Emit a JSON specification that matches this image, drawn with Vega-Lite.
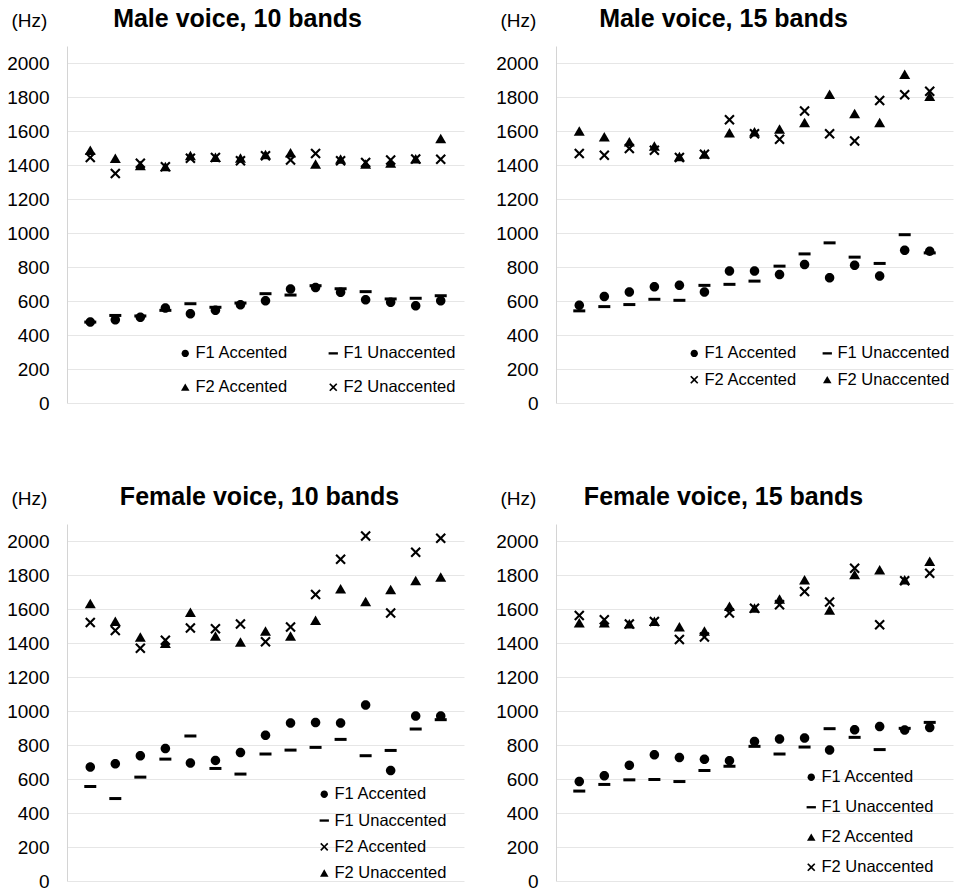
{
  "$schema": "https://vega.github.io/schema/vega-lite/v6.json",
  "background": "white",
  "padding": {"left": 6, "top": 7, "right": 4, "bottom": 4},
  "config": {
    "font": "Liberation Sans",
    "view": {"stroke": null},
    "title": {"fontSize": 25, "fontWeight": "bold", "color": "black", "anchor": "middle", "frame": "group", "offset": -21},
    "axisY": {
      "domainColor": "#d4d4d4", "gridColor": "#e6e6e6", "ticks": false, "tickSize": 0, "labelPadding": 18, "format": "d",
      "labelFontSize": 19, "labelColor": "black", "titleFontSize": 19, "titleFontWeight": "normal",
      "titleColor": "black", "titleAngle": 0, "titleX": -56, "titleY": -26, "titleAlign": "left", "titleBaseline": "middle"
    },
    "legend": {
      "orient": "none", "padding": 0, "labelFontSize": 16.5, "labelColor": "black", "labelFont": "Liberation Sans",
      "symbolSize": 60, "symbolFillColor": "black", "symbolStrokeWidth": 0, "labelOffset": 2
    }
  },
  "data": {"values": [
    {"p":"M10","i":1,"s":"F1 Accented","v":476},{"p":"M10","i":2,"s":"F1 Accented","v":490},{"p":"M10","i":3,"s":"F1 Accented","v":504},{"p":"M10","i":4,"s":"F1 Accented","v":559},{"p":"M10","i":5,"s":"F1 Accented","v":525},{"p":"M10","i":6,"s":"F1 Accented","v":545},{"p":"M10","i":7,"s":"F1 Accented","v":578},{"p":"M10","i":8,"s":"F1 Accented","v":602},{"p":"M10","i":9,"s":"F1 Accented","v":670},{"p":"M10","i":10,"s":"F1 Accented","v":680},{"p":"M10","i":11,"s":"F1 Accented","v":651},{"p":"M10","i":12,"s":"F1 Accented","v":608},{"p":"M10","i":13,"s":"F1 Accented","v":592},{"p":"M10","i":14,"s":"F1 Accented","v":572},{"p":"M10","i":15,"s":"F1 Accented","v":602},
    {"p":"M10","i":1,"s":"F1 Unaccented","v":476},{"p":"M10","i":2,"s":"F1 Unaccented","v":515},{"p":"M10","i":3,"s":"F1 Unaccented","v":512},{"p":"M10","i":4,"s":"F1 Unaccented","v":545},{"p":"M10","i":5,"s":"F1 Unaccented","v":584},{"p":"M10","i":6,"s":"F1 Unaccented","v":563},{"p":"M10","i":7,"s":"F1 Unaccented","v":588},{"p":"M10","i":8,"s":"F1 Unaccented","v":643},{"p":"M10","i":9,"s":"F1 Unaccented","v":635},{"p":"M10","i":10,"s":"F1 Unaccented","v":690},{"p":"M10","i":11,"s":"F1 Unaccented","v":672},{"p":"M10","i":12,"s":"F1 Unaccented","v":655},{"p":"M10","i":13,"s":"F1 Unaccented","v":612},{"p":"M10","i":14,"s":"F1 Unaccented","v":616},{"p":"M10","i":15,"s":"F1 Unaccented","v":631},
    {"p":"M10","i":1,"s":"F2 Accented","v":1485},{"p":"M10","i":2,"s":"F2 Accented","v":1438},{"p":"M10","i":3,"s":"F2 Accented","v":1395},{"p":"M10","i":4,"s":"F2 Accented","v":1390},{"p":"M10","i":5,"s":"F2 Accented","v":1455},{"p":"M10","i":6,"s":"F2 Accented","v":1444},{"p":"M10","i":7,"s":"F2 Accented","v":1440},{"p":"M10","i":8,"s":"F2 Accented","v":1460},{"p":"M10","i":9,"s":"F2 Accented","v":1470},{"p":"M10","i":10,"s":"F2 Accented","v":1405},{"p":"M10","i":11,"s":"F2 Accented","v":1434},{"p":"M10","i":12,"s":"F2 Accented","v":1405},{"p":"M10","i":13,"s":"F2 Accented","v":1410},{"p":"M10","i":14,"s":"F2 Accented","v":1435},{"p":"M10","i":15,"s":"F2 Accented","v":1555},
    {"p":"M10","i":1,"s":"F2 Unaccented","v":1444},{"p":"M10","i":2,"s":"F2 Unaccented","v":1350},{"p":"M10","i":3,"s":"F2 Unaccented","v":1410},{"p":"M10","i":4,"s":"F2 Unaccented","v":1390},{"p":"M10","i":5,"s":"F2 Unaccented","v":1440},{"p":"M10","i":6,"s":"F2 Unaccented","v":1444},{"p":"M10","i":7,"s":"F2 Unaccented","v":1425},{"p":"M10","i":8,"s":"F2 Unaccented","v":1455},{"p":"M10","i":9,"s":"F2 Unaccented","v":1430},{"p":"M10","i":10,"s":"F2 Unaccented","v":1467},{"p":"M10","i":11,"s":"F2 Unaccented","v":1425},{"p":"M10","i":12,"s":"F2 Unaccented","v":1415},{"p":"M10","i":13,"s":"F2 Unaccented","v":1430},{"p":"M10","i":14,"s":"F2 Unaccented","v":1435},{"p":"M10","i":15,"s":"F2 Unaccented","v":1434},

    {"p":"M15","i":1,"s":"F1 Accented","v":575},{"p":"M15","i":2,"s":"F1 Accented","v":626},{"p":"M15","i":3,"s":"F1 Accented","v":653},{"p":"M15","i":4,"s":"F1 Accented","v":684},{"p":"M15","i":5,"s":"F1 Accented","v":692},{"p":"M15","i":6,"s":"F1 Accented","v":653},{"p":"M15","i":7,"s":"F1 Accented","v":776},{"p":"M15","i":8,"s":"F1 Accented","v":776},{"p":"M15","i":9,"s":"F1 Accented","v":756},{"p":"M15","i":10,"s":"F1 Accented","v":815},{"p":"M15","i":11,"s":"F1 Accented","v":737},{"p":"M15","i":12,"s":"F1 Accented","v":811},{"p":"M15","i":13,"s":"F1 Accented","v":747},{"p":"M15","i":14,"s":"F1 Accented","v":899},{"p":"M15","i":15,"s":"F1 Accented","v":893},
    {"p":"M15","i":1,"s":"F1 Unaccented","v":542},{"p":"M15","i":2,"s":"F1 Unaccented","v":567},{"p":"M15","i":3,"s":"F1 Unaccented","v":579},{"p":"M15","i":4,"s":"F1 Unaccented","v":610},{"p":"M15","i":5,"s":"F1 Unaccented","v":604},{"p":"M15","i":6,"s":"F1 Unaccented","v":692},{"p":"M15","i":7,"s":"F1 Unaccented","v":698},{"p":"M15","i":8,"s":"F1 Unaccented","v":717},{"p":"M15","i":9,"s":"F1 Unaccented","v":805},{"p":"M15","i":10,"s":"F1 Unaccented","v":877},{"p":"M15","i":11,"s":"F1 Unaccented","v":942},{"p":"M15","i":12,"s":"F1 Unaccented","v":858},{"p":"M15","i":13,"s":"F1 Unaccented","v":821},{"p":"M15","i":14,"s":"F1 Unaccented","v":990},{"p":"M15","i":15,"s":"F1 Unaccented","v":883},
    {"p":"M15","i":1,"s":"F2 Accented","v":1467},{"p":"M15","i":2,"s":"F2 Accented","v":1458},{"p":"M15","i":3,"s":"F2 Accented","v":1497},{"p":"M15","i":4,"s":"F2 Accented","v":1487},{"p":"M15","i":5,"s":"F2 Accented","v":1444},{"p":"M15","i":6,"s":"F2 Accented","v":1463},{"p":"M15","i":7,"s":"F2 Accented","v":1666},{"p":"M15","i":8,"s":"F2 Accented","v":1584},{"p":"M15","i":9,"s":"F2 Accented","v":1551},{"p":"M15","i":10,"s":"F2 Accented","v":1717},{"p":"M15","i":11,"s":"F2 Accented","v":1584},{"p":"M15","i":12,"s":"F2 Accented","v":1541},{"p":"M15","i":13,"s":"F2 Accented","v":1780},{"p":"M15","i":14,"s":"F2 Accented","v":1813},{"p":"M15","i":15,"s":"F2 Accented","v":1834},
    {"p":"M15","i":1,"s":"F2 Unaccented","v":1598},{"p":"M15","i":2,"s":"F2 Unaccented","v":1565},{"p":"M15","i":3,"s":"F2 Unaccented","v":1535},{"p":"M15","i":4,"s":"F2 Unaccented","v":1510},{"p":"M15","i":5,"s":"F2 Unaccented","v":1448},{"p":"M15","i":6,"s":"F2 Unaccented","v":1463},{"p":"M15","i":7,"s":"F2 Unaccented","v":1588},{"p":"M15","i":8,"s":"F2 Unaccented","v":1594},{"p":"M15","i":9,"s":"F2 Unaccented","v":1610},{"p":"M15","i":10,"s":"F2 Unaccented","v":1649},{"p":"M15","i":11,"s":"F2 Unaccented","v":1815},{"p":"M15","i":12,"s":"F2 Unaccented","v":1701},{"p":"M15","i":13,"s":"F2 Unaccented","v":1649},{"p":"M15","i":14,"s":"F2 Unaccented","v":1932},{"p":"M15","i":15,"s":"F2 Unaccented","v":1803},

    {"p":"F10","i":1,"s":"F1 Accented","v":670},{"p":"F10","i":2,"s":"F1 Accented","v":690},{"p":"F10","i":3,"s":"F1 Accented","v":737},{"p":"F10","i":4,"s":"F1 Accented","v":780},{"p":"F10","i":5,"s":"F1 Accented","v":694},{"p":"F10","i":6,"s":"F1 Accented","v":709},{"p":"F10","i":7,"s":"F1 Accented","v":756},{"p":"F10","i":8,"s":"F1 Accented","v":857},{"p":"F10","i":9,"s":"F1 Accented","v":929},{"p":"F10","i":10,"s":"F1 Accented","v":933},{"p":"F10","i":11,"s":"F1 Accented","v":929},{"p":"F10","i":12,"s":"F1 Accented","v":1035},{"p":"F10","i":13,"s":"F1 Accented","v":650},{"p":"F10","i":14,"s":"F1 Accented","v":971},{"p":"F10","i":15,"s":"F1 Accented","v":971},
    {"p":"F10","i":1,"s":"F1 Unaccented","v":556},{"p":"F10","i":2,"s":"F1 Unaccented","v":485},{"p":"F10","i":3,"s":"F1 Unaccented","v":611},{"p":"F10","i":4,"s":"F1 Unaccented","v":717},{"p":"F10","i":5,"s":"F1 Unaccented","v":853},{"p":"F10","i":6,"s":"F1 Unaccented","v":662},{"p":"F10","i":7,"s":"F1 Unaccented","v":629},{"p":"F10","i":8,"s":"F1 Unaccented","v":747},{"p":"F10","i":9,"s":"F1 Unaccented","v":770},{"p":"F10","i":10,"s":"F1 Unaccented","v":786},{"p":"F10","i":11,"s":"F1 Unaccented","v":833},{"p":"F10","i":12,"s":"F1 Unaccented","v":737},{"p":"F10","i":13,"s":"F1 Unaccented","v":768},{"p":"F10","i":14,"s":"F1 Unaccented","v":894},{"p":"F10","i":15,"s":"F1 Unaccented","v":949},
    {"p":"F10","i":1,"s":"F2 Accented","v":1521},{"p":"F10","i":2,"s":"F2 Accented","v":1473},{"p":"F10","i":3,"s":"F2 Accented","v":1369},{"p":"F10","i":4,"s":"F2 Accented","v":1416},{"p":"F10","i":5,"s":"F2 Accented","v":1488},{"p":"F10","i":6,"s":"F2 Accented","v":1484},{"p":"F10","i":7,"s":"F2 Accented","v":1512},{"p":"F10","i":8,"s":"F2 Accented","v":1408},{"p":"F10","i":9,"s":"F2 Accented","v":1494},{"p":"F10","i":10,"s":"F2 Accented","v":1686},{"p":"F10","i":11,"s":"F2 Accented","v":1893},{"p":"F10","i":12,"s":"F2 Accented","v":2029},{"p":"F10","i":13,"s":"F2 Accented","v":1576},{"p":"F10","i":14,"s":"F2 Accented","v":1934},{"p":"F10","i":15,"s":"F2 Accented","v":2016},
    {"p":"F10","i":1,"s":"F2 Unaccented","v":1631},{"p":"F10","i":2,"s":"F2 Unaccented","v":1527},{"p":"F10","i":3,"s":"F2 Unaccented","v":1434},{"p":"F10","i":4,"s":"F2 Unaccented","v":1397},{"p":"F10","i":5,"s":"F2 Unaccented","v":1580},{"p":"F10","i":6,"s":"F2 Unaccented","v":1439},{"p":"F10","i":7,"s":"F2 Unaccented","v":1404},{"p":"F10","i":8,"s":"F2 Unaccented","v":1469},{"p":"F10","i":9,"s":"F2 Unaccented","v":1439},{"p":"F10","i":10,"s":"F2 Unaccented","v":1533},{"p":"F10","i":11,"s":"F2 Unaccented","v":1717},{"p":"F10","i":12,"s":"F2 Unaccented","v":1643},{"p":"F10","i":13,"s":"F2 Unaccented","v":1713},{"p":"F10","i":14,"s":"F2 Unaccented","v":1766},{"p":"F10","i":15,"s":"F2 Unaccented","v":1787},

    {"p":"F15","i":1,"s":"F1 Accented","v":585},{"p":"F15","i":2,"s":"F1 Accented","v":619},{"p":"F15","i":3,"s":"F1 Accented","v":681},{"p":"F15","i":4,"s":"F1 Accented","v":743},{"p":"F15","i":5,"s":"F1 Accented","v":726},{"p":"F15","i":6,"s":"F1 Accented","v":716},{"p":"F15","i":7,"s":"F1 Accented","v":708},{"p":"F15","i":8,"s":"F1 Accented","v":821},{"p":"F15","i":9,"s":"F1 Accented","v":835},{"p":"F15","i":10,"s":"F1 Accented","v":841},{"p":"F15","i":11,"s":"F1 Accented","v":771},{"p":"F15","i":12,"s":"F1 Accented","v":890},{"p":"F15","i":13,"s":"F1 Accented","v":909},{"p":"F15","i":14,"s":"F1 Accented","v":888},{"p":"F15","i":15,"s":"F1 Accented","v":903},
    {"p":"F15","i":1,"s":"F1 Unaccented","v":529},{"p":"F15","i":2,"s":"F1 Unaccented","v":568},{"p":"F15","i":3,"s":"F1 Unaccented","v":595},{"p":"F15","i":4,"s":"F1 Unaccented","v":597},{"p":"F15","i":5,"s":"F1 Unaccented","v":585},{"p":"F15","i":6,"s":"F1 Unaccented","v":650},{"p":"F15","i":7,"s":"F1 Unaccented","v":675},{"p":"F15","i":8,"s":"F1 Unaccented","v":792},{"p":"F15","i":9,"s":"F1 Unaccented","v":747},{"p":"F15","i":10,"s":"F1 Unaccented","v":788},{"p":"F15","i":11,"s":"F1 Unaccented","v":896},{"p":"F15","i":12,"s":"F1 Unaccented","v":845},{"p":"F15","i":13,"s":"F1 Unaccented","v":773},{"p":"F15","i":14,"s":"F1 Unaccented","v":898},{"p":"F15","i":15,"s":"F1 Unaccented","v":933},
    {"p":"F15","i":1,"s":"F2 Accented","v":1518},{"p":"F15","i":2,"s":"F2 Accented","v":1518},{"p":"F15","i":3,"s":"F2 Accented","v":1512},{"p":"F15","i":4,"s":"F2 Accented","v":1527},{"p":"F15","i":5,"s":"F2 Accented","v":1494},{"p":"F15","i":6,"s":"F2 Accented","v":1469},{"p":"F15","i":7,"s":"F2 Accented","v":1615},{"p":"F15","i":8,"s":"F2 Accented","v":1605},{"p":"F15","i":9,"s":"F2 Accented","v":1658},{"p":"F15","i":10,"s":"F2 Accented","v":1771},{"p":"F15","i":11,"s":"F2 Accented","v":1592},{"p":"F15","i":12,"s":"F2 Accented","v":1801},{"p":"F15","i":13,"s":"F2 Accented","v":1830},{"p":"F15","i":14,"s":"F2 Accented","v":1771},{"p":"F15","i":15,"s":"F2 Accented","v":1879},
    {"p":"F15","i":1,"s":"F2 Unaccented","v":1562},{"p":"F15","i":2,"s":"F2 Unaccented","v":1537},{"p":"F15","i":3,"s":"F2 Unaccented","v":1512},{"p":"F15","i":4,"s":"F2 Unaccented","v":1527},{"p":"F15","i":5,"s":"F2 Unaccented","v":1420},{"p":"F15","i":6,"s":"F2 Unaccented","v":1436},{"p":"F15","i":7,"s":"F2 Unaccented","v":1576},{"p":"F15","i":8,"s":"F2 Unaccented","v":1605},{"p":"F15","i":9,"s":"F2 Unaccented","v":1625},{"p":"F15","i":10,"s":"F2 Unaccented","v":1703},{"p":"F15","i":11,"s":"F2 Unaccented","v":1641},{"p":"F15","i":12,"s":"F2 Unaccented","v":1840},{"p":"F15","i":13,"s":"F2 Unaccented","v":1508},{"p":"F15","i":14,"s":"F2 Unaccented","v":1766},{"p":"F15","i":15,"s":"F2 Unaccented","v":1811}
  ]},
  "columns": 2,
  "bounds": "flush",
  "spacing": {"row": 121, "column": 92},
  "resolve": {"scale": {"shape": "independent"}, "legend": {"shape": "independent"}},
  "concat": [
    {
      "title": {"text": "Male voice, 10 bands", "dx": -28},
      "width": 397, "height": 357,
      "transform": [{"filter": "datum.p === 'M10'"}],
      "mark": {"type": "point", "filled": true, "fill": "black", "strokeWidth": 0, "size": 100, "opacity": 1},
      "encoding": {
        "x": {"field": "i", "type": "ordinal", "scale": {"type": "point", "padding": 0.93}, "axis": null},
        "y": {"field": "v", "type": "quantitative", "scale": {"domain": [0, 2100], "nice": false}, "axis": {"title": "(Hz)", "values": [0,200,400,600,800,1000,1200,1400,1600,1800,2000]}},
        "shape": {"field": "s", "type": "nominal",
          "scale": {"domain": ["F1 Accented","F1 Unaccented","F2 Accented","F2 Unaccented"],
                    "range": ["M-0.95,0A0.95,0.95,0,1,0,0.95,0A0.95,0.95,0,1,0,-0.95,0Z","M-1.2,-0.3H1.2V0.3H-1.2Z","M0,-1L1.1,0.9L-1.1,0.9Z","M-1.05,-0.75L-0.75,-1.05L0,-0.3L0.75,-1.05L1.05,-0.75L0.3,0L1.05,0.75L0.75,1.05L0,0.3L-0.75,1.05L-1.05,0.75L-0.3,0Z"]},
          "legend": {"title": null, "orient": "none", "legendX": 110, "legendY": 299, "columns": 2, "direction": "horizontal", "rowPadding": 17, "columnPadding": 36,
            "encode": {"symbols": {"update": {"fill": {"value": "black"}, "strokeWidth": {"value": 0}, "opacity": {"value": 1}}}}}}
      }
    },
    {
      "title": {"text": "Male voice, 15 bands", "dx": -31},
      "width": 397, "height": 357,
      "transform": [{"filter": "datum.p === 'M15'"}],
      "mark": {"type": "point", "filled": true, "fill": "black", "strokeWidth": 0, "size": 100, "opacity": 1},
      "encoding": {
        "x": {"field": "i", "type": "ordinal", "scale": {"type": "point", "padding": 0.93}, "axis": null},
        "y": {"field": "v", "type": "quantitative", "scale": {"domain": [0, 2100], "nice": false}, "axis": {"title": "(Hz)", "values": [0,200,400,600,800,1000,1200,1400,1600,1800,2000]}},
        "shape": {"field": "s", "type": "nominal",
          "scale": {"domain": ["F1 Accented","F1 Unaccented","F2 Accented","F2 Unaccented"],
                    "range": ["M-0.95,0A0.95,0.95,0,1,0,0.95,0A0.95,0.95,0,1,0,-0.95,0Z","M-1.2,-0.3H1.2V0.3H-1.2Z","M-1.05,-0.75L-0.75,-1.05L0,-0.3L0.75,-1.05L1.05,-0.75L0.3,0L1.05,0.75L0.75,1.05L0,0.3L-0.75,1.05L-1.05,0.75L-0.3,0Z","M0,-1L1.1,0.9L-1.1,0.9Z"]},
          "legend": {"title": null, "orient": "none", "legendX": 130, "legendY": 299, "columns": 2, "direction": "horizontal", "rowPadding": 9.5, "columnPadding": 21,
            "encode": {"symbols": {"update": {"fill": {"value": "black"}, "strokeWidth": {"value": 0}, "opacity": {"value": 1}}}}}}
      }
    },
    {
      "title": {"text": "Female voice, 10 bands", "dx": -6},
      "width": 397, "height": 357,
      "transform": [{"filter": "datum.p === 'F10'"}],
      "mark": {"type": "point", "filled": true, "fill": "black", "strokeWidth": 0, "size": 100, "opacity": 1},
      "encoding": {
        "x": {"field": "i", "type": "ordinal", "scale": {"type": "point", "padding": 0.93}, "axis": null},
        "y": {"field": "v", "type": "quantitative", "scale": {"domain": [0, 2100], "nice": false}, "axis": {"title": "(Hz)", "values": [0,200,400,600,800,1000,1200,1400,1600,1800,2000]}},
        "shape": {"field": "s", "type": "nominal",
          "scale": {"domain": ["F1 Accented","F1 Unaccented","F2 Accented","F2 Unaccented"],
                    "range": ["M-0.95,0A0.95,0.95,0,1,0,0.95,0A0.95,0.95,0,1,0,-0.95,0Z","M-1.2,-0.3H1.2V0.3H-1.2Z","M-1.05,-0.75L-0.75,-1.05L0,-0.3L0.75,-1.05L1.05,-0.75L0.3,0L1.05,0.75L0.75,1.05L0,0.3L-0.75,1.05L-1.05,0.75L-0.3,0Z","M0,-1L1.1,0.9L-1.1,0.9Z"]},
          "legend": {"title": null, "orient": "none", "legendX": 249, "legendY": 262, "columns": 1, "direction": "vertical", "rowPadding": 9.3,
            "encode": {"symbols": {"update": {"fill": {"value": "black"}, "strokeWidth": {"value": 0}, "opacity": {"value": 1}}}}}}
      }
    },
    {
      "title": {"text": "Female voice, 15 bands", "dx": -31},
      "width": 397, "height": 357,
      "transform": [{"filter": "datum.p === 'F15'"}],
      "mark": {"type": "point", "filled": true, "fill": "black", "strokeWidth": 0, "size": 100, "opacity": 1},
      "encoding": {
        "x": {"field": "i", "type": "ordinal", "scale": {"type": "point", "padding": 0.93}, "axis": null},
        "y": {"field": "v", "type": "quantitative", "scale": {"domain": [0, 2100], "nice": false}, "axis": {"title": "(Hz)", "values": [0,200,400,600,800,1000,1200,1400,1600,1800,2000]}},
        "shape": {"field": "s", "type": "nominal",
          "scale": {"domain": ["F1 Accented","F1 Unaccented","F2 Accented","F2 Unaccented"],
                    "range": ["M-0.95,0A0.95,0.95,0,1,0,0.95,0A0.95,0.95,0,1,0,-0.95,0Z","M-1.2,-0.3H1.2V0.3H-1.2Z","M0,-1L1.1,0.9L-1.1,0.9Z","M-1.05,-0.75L-0.75,-1.05L0,-0.3L0.75,-1.05L1.05,-0.75L0.3,0L1.05,0.75L0.75,1.05L0,0.3L-0.75,1.05L-1.05,0.75L-0.3,0Z"]},
          "legend": {"title": null, "orient": "none", "legendX": 247, "legendY": 245, "columns": 1, "direction": "vertical", "rowPadding": 13,
            "encode": {"symbols": {"update": {"fill": {"value": "black"}, "strokeWidth": {"value": 0}, "opacity": {"value": 1}}}}}}
      }
    }
  ]
}
